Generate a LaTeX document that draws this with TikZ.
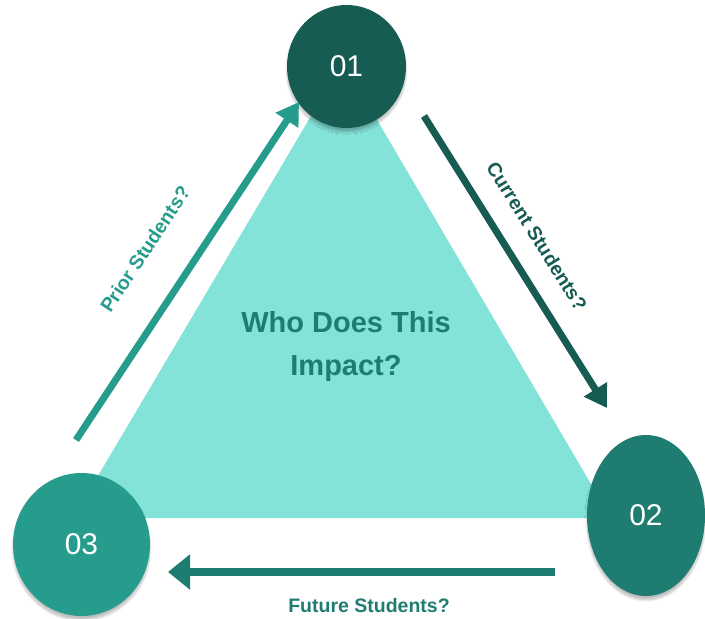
\documentclass[tikz,border=0pt]{standalone}
\usepackage{fontspec}
\setmainfont{Liberation Sans}
\usetikzlibrary{arrows.meta,shapes.geometric,shadows.blur}
\definecolor{tealdark}{HTML}{165C53}
\definecolor{tealmid}{HTML}{1E7C70}
\definecolor{teallight}{HTML}{259C8C}
\definecolor{tealpale}{HTML}{84E3D8}
\tikzset{
  stage/.style={ellipse, inner sep=0pt, text=white, font=\fontsize{30}{32}\selectfont,
    blur shadow={shadow xshift=0pt, shadow yshift=-4pt, shadow blur steps=10, shadow opacity=25}},
  flow/.style={line width=7pt, -{Triangle[length=22pt,width=26pt]}},
  flowlabel/.style={font=\bfseries\fontsize{19.5}{22}\selectfont},
}
\begin{document}
\begin{tikzpicture}[x=1pt,y=-1pt]
\path[use as bounding box] (0,0) rectangle (705,619);
% central triangle
\fill[tealpale] (343,62) -- (611,518) -- (73,518) -- cycle;
\node[font=\bfseries\fontsize{29}{43}\selectfont, text=tealmid, align=center] (q) at (346,346) {Who Does This\\Impact?};
% stage circles
\node[stage, fill=tealdark, minimum width=119pt, minimum height=123pt] (c1) at (346.5,66.5) {01};
\node[stage, fill=tealmid, minimum width=118pt, minimum height=161pt] (c2) at (646,515.5) {02};
\node[stage, fill=teallight, minimum width=137pt, minimum height=143pt] (c3) at (81.5,544.5) {03};
% arrow end points
\coordinate (p0) at (76,440);
\coordinate (p1) at (299,102);
\coordinate (r0) at (424,116);
\coordinate (r1) at (607,408);
\coordinate (f0) at (555,572);
\coordinate (f1) at (168,572);
% arrows
\draw[flow, teallight] (p0) -- (p1);
\draw[flow, tealdark] (r0) -- (r1);
\draw[flow, tealmid, line width=8pt, -{Triangle[length=22pt,width=34pt]}] (f0) -- (f1);
% arrow labels
\node[flowlabel, text=teallight, rotate=56.6] (lp) at (145,249) {Prior Students?};
\node[flowlabel, text=tealdark, rotate=-58] (lr) at (537,236) {Current Students?};
\node[flowlabel, text=tealmid] (lf) at (369,606) {Future Students?};
\end{tikzpicture}
\end{document}
